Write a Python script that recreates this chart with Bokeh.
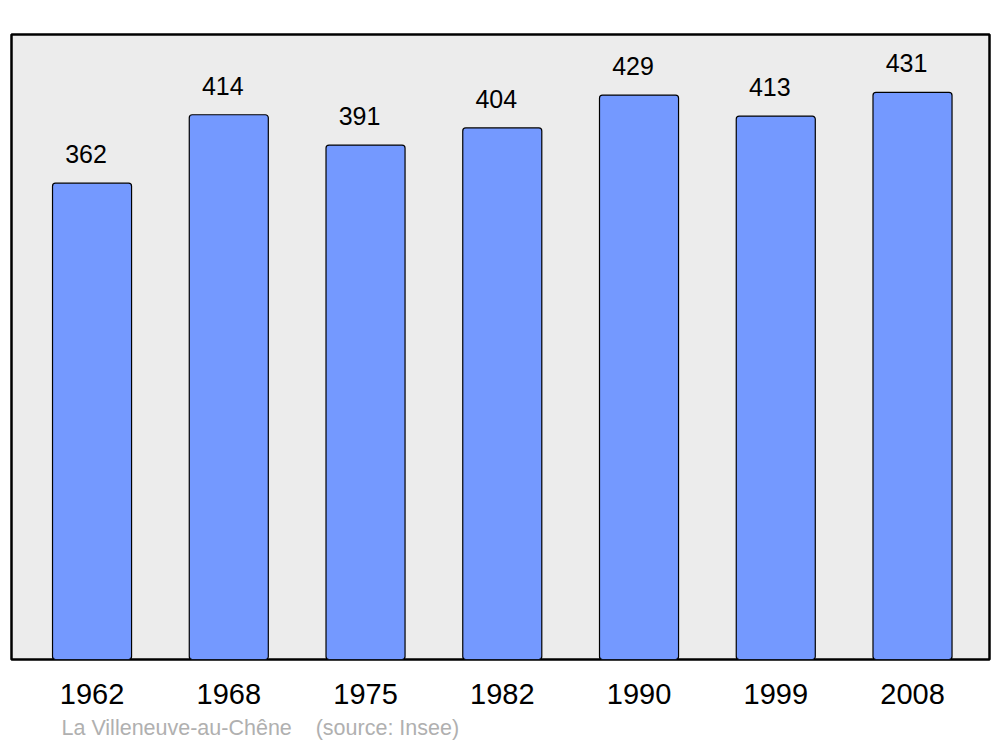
from bokeh.plotting import figure
from bokeh.models import Range1d, FixedTicker, Title, ColumnDataSource
from bokeh.embed import file_html
from bokeh.resources import INLINE
from bokeh.core.properties import value

years = ["1962", "1968", "1975", "1982", "1990", "1999", "2008"]
population = [362, 414, 391, 404, 429, 413, 431]
source_note = "La Villeneuve-au-Chêne\u00a0\u00a0\u00a0\u00a0(source: Insee)"

xs = list(range(len(years)))
src = ColumnDataSource(dict(x=xs, y=population, lab=[str(v) for v in population]))

p = figure(width=1000, height=747, output_backend="svg", toolbar_location=None,
           x_range=Range1d(-0.589, 6.563), y_range=Range1d(0, 475),
           min_border_left=11, min_border_right=11, min_border_top=34, min_border_bottom=87)
p.background_fill_color = "#ececec"
p.border_fill_color = "white"
p.outline_line_color = "black"
p.outline_line_width = 2.5
p.grid.visible = False
p.yaxis.visible = False

p.vbar(x="x", top="y", bottom=0, width=0.578, source=src,
       fill_color="#7499ff", line_color="black", line_width=1.2, border_radius=3)
p.text(x="x", y="y", text="lab", source=src, text_align="center", text_baseline="alphabetic",
       x_offset=-6, y_offset=-29, text_font=value("Liberation Sans"),
       text_font_size="25px", text_color="black")

ax = p.xaxis[0]
ax.ticker = FixedTicker(ticks=xs)
ax.major_label_overrides = {i: y for i, y in zip(xs, years)}
ax.major_label_text_font = "Liberation Sans"
ax.major_label_text_font_size = "29px"
ax.major_label_text_color = "black"
ax.major_label_standoff = 18
ax.axis_line_color = None
ax.major_tick_line_color = None
ax.minor_tick_line_color = None

t = Title(text=source_note, align="left", offset=50, text_font="Liberation Sans",
          text_font_size="21.5px", text_color="#b0b0b0", text_font_style="normal",
          standoff=15)
p.add_layout(t, "below")

open("out.html", "w").write(file_html(p, INLINE))
